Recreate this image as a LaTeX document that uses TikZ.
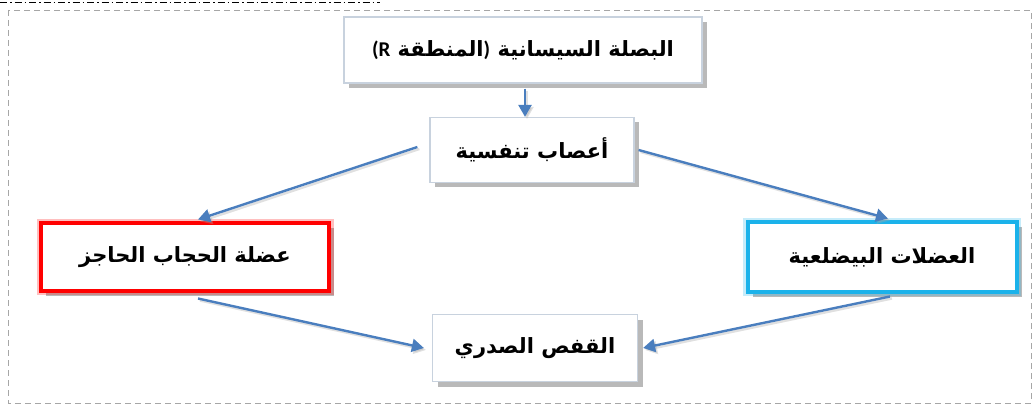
\documentclass[tikz,border=0pt]{standalone}
\usepackage{fontspec}
\usetikzlibrary{shadows,arrows.meta}
\newfontfamily\arabicfont[Script=Arabic]{DejaVu Sans}
\newfontfamily\latinfont{Carlito}
\TeXXeTstate=1
\definecolor{arrowblue}{HTML}{4A7EBE}
\definecolor{boxedge}{HTML}{C8D2DE}
\definecolor{glowblue}{HTML}{1BB2EA}
\begin{document}
\begin{tikzpicture}[x=1pt,y=-1pt,
  box/.style={draw=boxedge, line width=1.2pt, fill=white, inner sep=0pt,
    font=\arabicfont\bfseries\fontsize{21}{24}\selectfont,
    drop shadow={shadow xshift=5pt, shadow yshift=-5pt, opacity=0.5, fill=black!55}},
  glow/.style={preaction={draw=#1, line width=9pt, opacity=0.25}},
  conn/.style={draw=arrowblue, line width=2.4pt, -{Triangle[length=12pt,width=13pt]},
    preaction={draw=black!35, line width=2.4pt, opacity=0.35, transform canvas={xshift=2pt,yshift=-2pt}, -{Triangle[length=12pt,width=13pt]}}}
]
\useasboundingbox (0,0) rectangle (1036,406);
\draw[gray!70, dash pattern=on 6pt off 4pt, line width=0.8pt] (8,10) rectangle (1031,403);
\draw[black, dash pattern=on 7pt off 3pt on 1.5pt off 3pt, line width=1pt] (0,3) -- (380,3);

\node[box, minimum width=358pt, minimum height=66pt] (top) at (523,50)
  {{\latinfont\bfseries (R} \beginR المنطقة\endR{\latinfont\bfseries )} \beginR البصلة السيسانية\endR};
\node[box, minimum width=204pt, minimum height=65pt] (nerves) at (532,150)
  {\beginR أعصاب تنفسية\endR};
\node[box, draw=red, line width=4pt, glow=red, minimum width=288pt, minimum height=67pt] (diaph) at (185,257)
  {\beginR عضلة الحجاب الحاجز\endR};
\node[box, draw=glowblue, line width=4pt, glow=glowblue, minimum width=269pt, minimum height=69pt] (inter) at (882,257)
  {\beginR العضلات البيضلعية\endR};
\node[box, minimum width=205pt, minimum height=67pt] (chest) at (535,348)
  {\beginR القفص الصدري\endR};

\draw[conn] ([xshift=2pt,yshift=-5pt]top.south) -- ([xshift=-7pt]nerves.north);
\draw[conn] ([xshift=-12pt,yshift=3pt]nerves.west) -- ([xshift=13pt,yshift=2pt]diaph.north);
\draw[conn] ([xshift=4pt]nerves.east) -- ([xshift=6pt,yshift=2pt]inter.north);
\draw[conn] ([xshift=13pt,yshift=-6pt]diaph.south) -- ([xshift=-8pt]chest.west);
\draw[conn] ([xshift=8pt,yshift=-3pt]inter.south) -- ([xshift=5pt]chest.east);
\end{tikzpicture}
\end{document}
